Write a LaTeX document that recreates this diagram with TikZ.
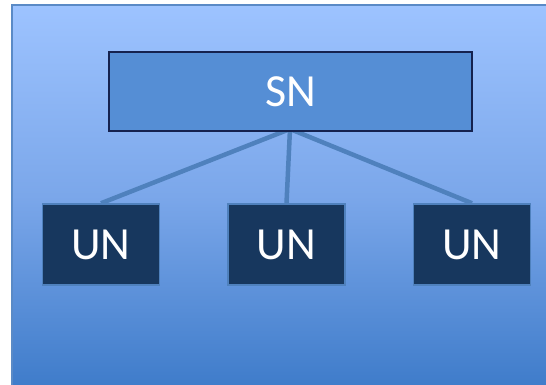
\documentclass[tikz,border=0pt]{standalone}
\usepackage{fontspec}
\setmainfont{Carlito}
\usetikzlibrary{backgrounds}
\definecolor{bgtop}{HTML}{9DC3FF}
\definecolor{bgmid}{HTML}{7BA7EA}
\definecolor{bgbot}{HTML}{3F7CCA}
\definecolor{bgedge}{HTML}{5A8AC6}
\definecolor{snfill}{HTML}{558ED5}
\definecolor{snedge}{HTML}{15224F}
\definecolor{unfill}{HTML}{17375E}
\definecolor{unedge}{HTML}{4F81BD}
\definecolor{linkc}{HTML}{4F81BD}
\tikzset{
  snbox/.style={draw=snedge, line width=2pt, fill=snfill, minimum width=363pt, minimum height=79pt, inner sep=0pt, text=white, font=\fontsize{46}{50}\selectfont},
  unbox/.style={draw=unedge, line width=1.5pt, fill=unfill, minimum width=117pt, minimum height=81pt, inner sep=0pt, text=white, font=\fontsize{46}{50}\selectfont},
  link/.style={draw=linkc, line width=4.5pt}
}
\begin{document}
\begin{tikzpicture}[x=1pt,y=-1pt]
\node[snbox] (sn) at (290.5,91.5) {SN};
\coordinate (apex) at (290,129);
\node[unbox] (un1) at (101,244.5) {UN};
\node[unbox] (un2) at (286.5,244.5) {UN};
\node[unbox] (un3) at (472,244.5) {UN};
\begin{pgfonlayer}{background}
\useasboundingbox (0,0) rectangle (546,384);
\shade[top color=bgtop, bottom color=bgbot, middle color=bgmid] (12,5) rectangle (548,386);
\draw[bgedge, line width=1.5pt] (548,5) -- (12,5) -- (12,386);
\draw[link] (apex) -- (un1.north);
\draw[link] (apex) -- (un2.north);
\draw[link] (apex) -- (un3.north);
\end{pgfonlayer}
\end{tikzpicture}
\end{document}
